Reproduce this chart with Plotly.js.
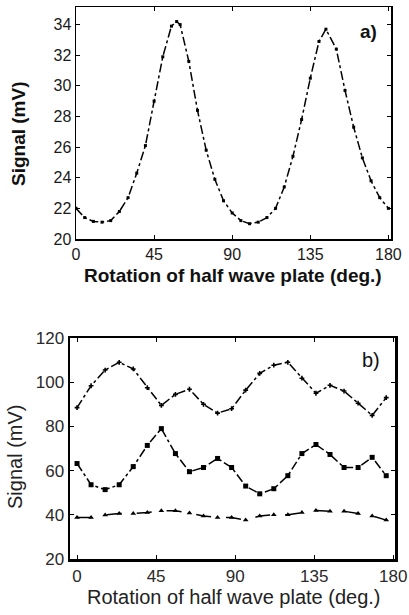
<!DOCTYPE html>
<html>
<head>
<meta charset="utf-8">
<script src="https://cdn.plot.ly/plotly-3.0.1.min.js"></script>
<style>html,body{margin:0;padding:0;background:#fff;}#chart{width:409px;height:615px;}</style>
</head>
<body>
<div id="chart"></div>
<script>
// Panel a) data
const angleA = [0,5,10,15,20,25,30,35,40,45,50,55,58,60,65,70,75,80,85,90,95,100,105,110,115,120,125,130,135,140,144,150,155,160,165,170,175,180];
const signalA = [22.0,21.4,21.15,21.1,21.2,21.8,22.7,24.3,26.1,29.0,31.9,33.9,34.2,34.0,31.6,28.4,25.8,23.9,22.5,21.7,21.2,21.0,21.1,21.4,22.0,23.4,25.4,27.8,30.5,32.9,33.7,32.4,29.7,27.3,25.3,23.8,22.7,22.0];

// Panel b) data
const angleB = [0,8,16,24,32,40,48,56,64,72,80,88,96,104,112,120,128,136,144,152,160,168,176];
const signalTop = [88.5,98.4,105.5,109,106,97.5,89.5,94.5,96.8,90,86,88,96.4,104,107.7,109,101.8,95,98.6,96,90.5,85,93];
const signalMid = [63.2,53.6,51.4,53.6,61.8,71.4,79,67.7,59.5,61.4,65.5,61.4,53,49.5,51.8,57.7,67.7,71.8,67.3,61.4,61.4,66,57.7];
const signalLow = [38.8,38.8,39.9,40.6,40.6,41,41.8,41.8,40.8,39.5,38.8,38.8,37.6,39.5,40,40,41,42,41.6,41.6,40.6,39.5,37.6];

const ticksA_x = [0,45,90,135,180];
const ticksA_y = [20,22,24,26,28,30,32,34];
const ticksB_y = [20,40,60,80,100,120];

const W = 409, H = 615;
const FAM = 'Liberation Sans, Arial, sans-serif';
const tickA = {family: FAM, size: 16, color: '#1a1a1a'};
const tickB = {family: FAM, size: 17, color: '#2a2a2a'};

const traces = [
  {x: angleA, y: signalA, xaxis: 'x', yaxis: 'y', mode: 'lines+markers',
   line: {color: '#000', width: 1.5, dash: 'dashdot'},
   marker: {symbol: 'square', size: 3, color: '#000'}},
  {x: angleB, y: signalTop, xaxis: 'x2', yaxis: 'y2', mode: 'lines+markers',
   line: {color: '#000', width: 1.5, dash: 'dashdot'},
   marker: {symbol: 'cross', size: 4, color: '#000'}},
  {x: angleB, y: signalMid, xaxis: 'x2', yaxis: 'y2', mode: 'lines+markers',
   line: {color: '#000', width: 1.5, dash: 'dashdot'},
   marker: {symbol: 'square', size: 5, color: '#000'}},
  {x: angleB, y: signalLow, xaxis: 'x2', yaxis: 'y2', mode: 'lines+markers',
   line: {color: '#000', width: 1.5, dash: 'longdash'},
   marker: {symbol: 'triangle-up', size: 5, color: '#000'}}
];

const axisCommon = {ticks: 'inside', ticklen: 4, tickcolor: '#000', showline: true, linecolor: '#000',
  mirror: 'ticks', showgrid: false, zeroline: false};

const ann = (text, x, y, size, color, angle) => ({text: text, xref: 'paper', yref: 'paper',
  x: x/W, y: 1-y/H, xanchor: 'center', yanchor: 'middle', showarrow: false,
  textangle: angle || 0, font: {family: FAM, size: size, color: color}});

const layout = {
  width: W, height: H,
  margin: {l: 0, r: 0, t: 0, b: 0},
  paper_bgcolor: '#fff', plot_bgcolor: '#fff',
  showlegend: false,
  xaxis: Object.assign({}, axisCommon, {domain: [76/W, 391/W], range: [0, 181.5], tickvals: ticksA_x,
    linewidth: 1.5, anchor: 'y', tickfont: tickA}),
  yaxis: Object.assign({}, axisCommon, {domain: [1-239/H, 1-7/H], range: [20, 35.15], tickvals: ticksA_y,
    linewidth: 1.5, anchor: 'x', tickfont: tickA}),
  xaxis2: Object.assign({}, axisCommon, {domain: [70/W, 395/W], range: [-4, 181], tickvals: ticksA_x,
    linewidth: 2.5, anchor: 'y2', tickfont: tickB}),
  yaxis2: Object.assign({}, axisCommon, {domain: [1-559/H, 1-338/H], range: [20, 120], tickvals: ticksB_y,
    linewidth: 2.5, anchor: 'x2', tickfont: tickB}),
  annotations: [
    ann('<b>Rotation of half wave plate (deg.)</b>', 233, 275, 19, '#111'),
    ann('<b>Signal (mV)</b>', 18, 134, 19, '#111', -90),
    ann('Rotation of half wave plate (deg.)', 234, 597, 20, '#222'),
    ann('Signal (mV)', 15, 457, 20, '#222', -90),
    ann('<b>a)</b>', 368, 32, 19, '#111'),
    ann('b)', 371, 360, 20, '#111')
  ]
};

Plotly.newPlot('chart', traces, layout, {displayModeBar: false, staticPlot: true});
</script>
</body>
</html>
